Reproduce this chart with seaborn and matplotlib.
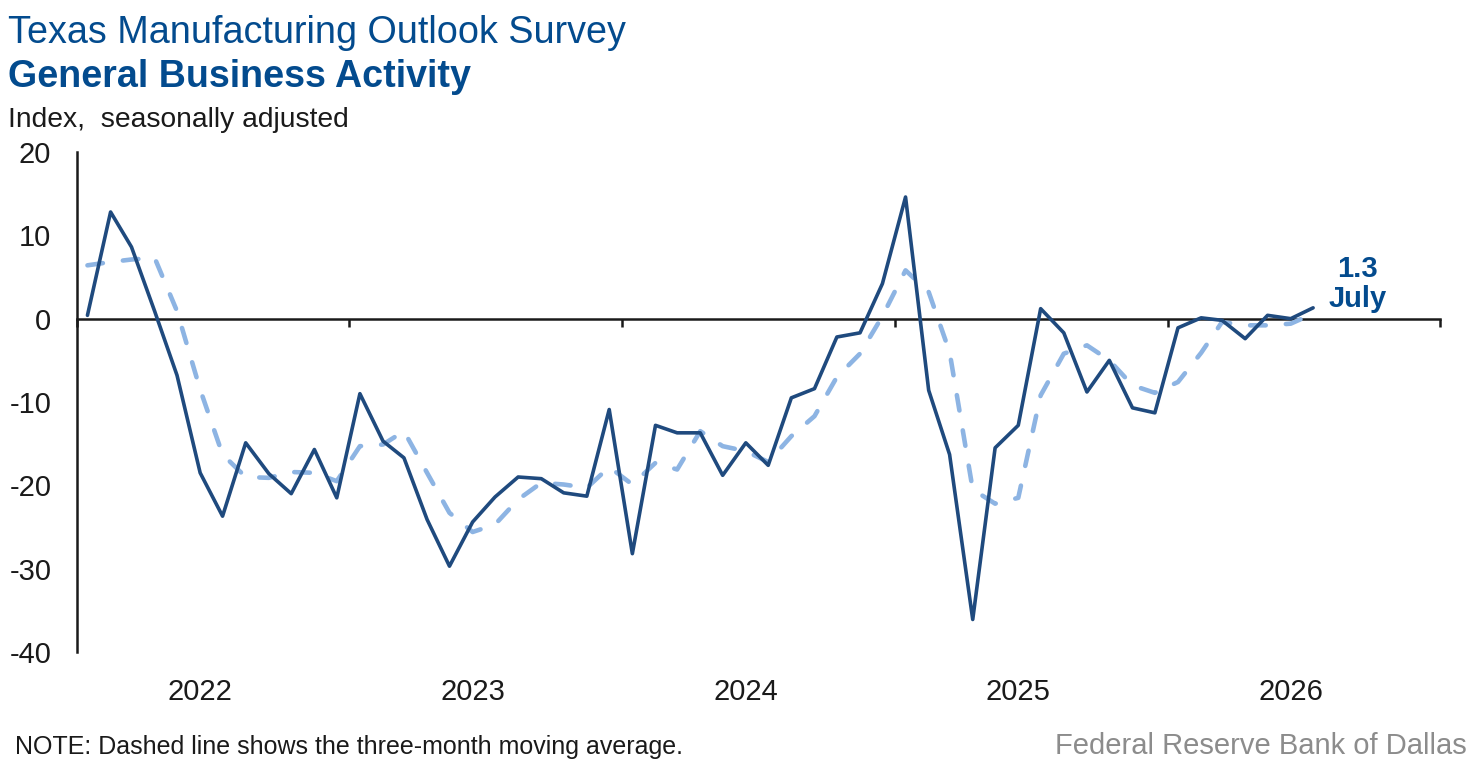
import pandas as pd
import matplotlib
matplotlib.use("Agg")
import matplotlib.pyplot as plt
import matplotlib.dates as mdates
import seaborn as sns

# monthly observations, Jan 2022 - Jul 2026 (plotted mid-month)
months = pd.date_range("2022-01-01", periods=55, freq="MS") + pd.Timedelta(days=14)

activity = [0.4, 12.8, 8.6, 0.9, -6.8, -18.5, -23.7, -14.9, -18.6, -21.0, -15.7, -21.5,
            -9.0, -14.7, -16.7, -24.1, -29.7, -24.4, -21.4, -19.0, -19.2, -20.9, -21.3, -10.9,
            -28.2, -12.8, -13.7, -13.7, -18.8, -14.9, -17.6, -9.5, -8.4, -2.2, -1.7, 4.2,
            14.6, -8.6, -16.3, -36.1, -15.5, -12.8, 1.2, -1.7, -8.8, -5.0, -10.7, -11.3,
            -1.1, 0.1, -0.2, -2.4, 0.4, 0.0, 1.3]

moving_avg = [6.4, 6.8, 7.1, 7.3, 0.9, -8.5, -16.3, -19.0, -19.1, -18.4, -18.5, -19.5,
              -15.3, -15.1, -13.5, -18.5, -23.3, -25.6, -24.7, -21.7, -19.7, -19.9, -20.3, -17.8,
              -19.9, -17.3, -18.1, -13.5, -15.3, -15.9, -17.2, -14.1, -11.7, -7.0, -4.2, 0.3,
              5.8, 3.2, -4.0, -20.5, -22.2, -21.5, -9.2, -4.2, -3.2, -5.0, -8.0, -8.9,
              -7.6, -4.1, -0.4, -0.8, -0.8, -0.6, 0.6]

y_ticks = [-40, -30, -20, -10, 0, 10, 20]

df = pd.DataFrame({"month": months, "activity": activity, "ma": moving_avg})

navy = "#1f4a7e"
light = "#8db4e3"
title_blue = "#034b8e"
ink = "#1a1a1a"

sns.set_style("white")
plt.rcParams["font.family"] = ["Liberation Sans", "DejaVu Sans"]
plt.rcParams["axes.unicode_minus"] = False

fig = plt.figure(figsize=(14.8, 7.68), dpi=100)
ax = fig.add_axes([77 / 1480, 1 - 652 / 768, (1440 - 77) / 1480, 500 / 768])

sns.lineplot(data=df, x="month", y="ma", ax=ax, color=light, linewidth=3.3)
dash_line = ax.lines[-1]
dash_line.set_dashes((3.4, 4.4))
dash_line.set_dash_capstyle("round")
sns.lineplot(data=df, x="month", y="activity", ax=ax, color=navy, linewidth=2.6)

ymin, ymax = y_ticks[0], y_ticks[-1]
ax.set_ylim(ymin, ymax)
ax.set_xlim(pd.Timestamp("2022-01-01"), pd.Timestamp("2027-01-01"))
ax.set_yticks(y_ticks)
ax.set_xlabel("")
ax.set_ylabel("")

for side in ["top", "right", "bottom"]:
    ax.spines[side].set_visible(False)
ax.spines["left"].set_color(ink)
ax.spines["left"].set_linewidth(1.8)
ax.tick_params(axis="y", direction="out", length=6.5, width=1.8, color=ink,
               labelcolor=ink, labelsize=21, pad=12)

# year labels near the middle of each year
ax.xaxis.set_major_locator(mdates.YearLocator())
ax.xaxis.set_major_formatter(plt.NullFormatter())
ax.xaxis.set_minor_locator(mdates.MonthLocator(bymonth=6, bymonthday=15))
ax.xaxis.set_minor_formatter(mdates.DateFormatter("%Y"))
ax.tick_params(axis="x", which="major", length=0)
ax.tick_params(axis="x", which="minor", length=0, labelsize=21, labelcolor=ink, pad=19)

# zero line with year-boundary ticks
zero_pos = (0 - ymin) / (ymax - ymin)
sec = ax.secondary_xaxis(zero_pos)
sec.set_alignment("bottom")
sec.xaxis.set_major_locator(mdates.YearLocator())
sec.tick_params(axis="x", direction="out", length=6, width=1.8, color=ink, labelbottom=False)
sec.spines["bottom"].set_color(ink)
sec.spines["bottom"].set_linewidth(1.8)

# latest value label
last_x, last_y = df["month"].iloc[-1], df["activity"].iloc[-1]
ax.annotate(f"{last_y:.1f}\nJuly", xy=(last_x, last_y), xytext=(32, -4),
            textcoords="offset points", ha="center", va="bottom", fontsize=21,
            fontweight="bold", color=title_blue, linespacing=1.12)

fig.text(8 / 1480, 1 - 43 / 768, "Texas Manufacturing Outlook Survey", fontsize=27.2,
         color=title_blue, va="baseline")
fig.text(8 / 1480, 1 - 87 / 768, "General Business Activity", fontsize=27.1,
         fontweight="bold", color=title_blue, va="baseline")
fig.text(8 / 1480, 1 - 127 / 768, "Index,  seasonally adjusted", fontsize=20.3,
         color=ink, va="baseline")
fig.text(15 / 1480, 1 - 754 / 768, "NOTE: Dashed line shows the three-month moving average.",
         fontsize=18, color=ink, va="baseline")
fig.text(1467 / 1480, 1 - 754 / 768, "Federal Reserve Bank of Dallas", fontsize=21,
         color="#8c8c8c", ha="right", va="baseline")

fig.savefig("out.png", dpi=100)
